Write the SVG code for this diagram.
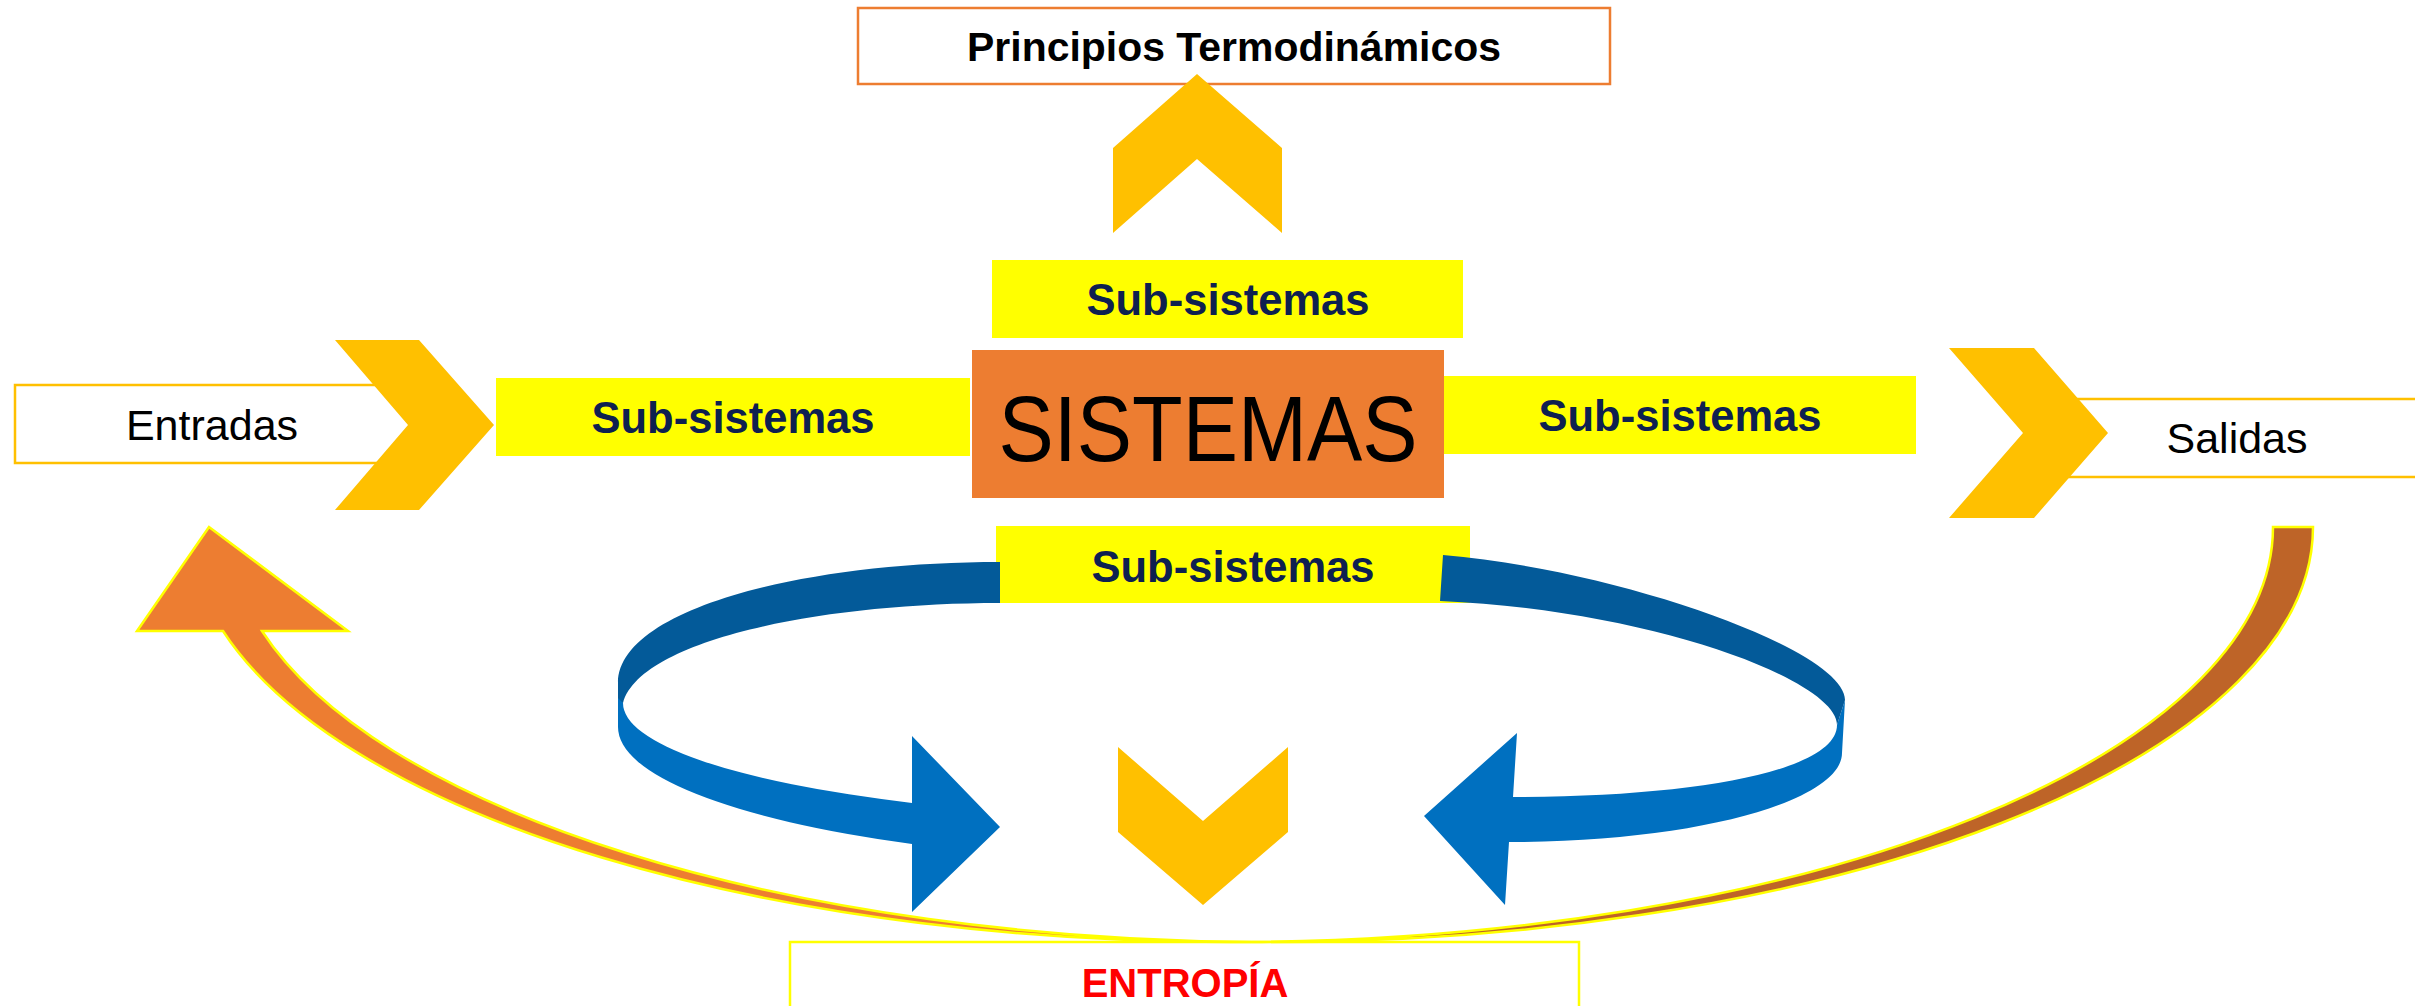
<svg xmlns="http://www.w3.org/2000/svg" width="2415" height="1006" viewBox="0 0 2415 1006">
<defs>
<style>
.chev{fill:#FFC000;}
.bar{fill:#FFFF00;}
.sub{font-family:"Liberation Sans",Arial,sans-serif;font-weight:bold;font-size:44px;fill:#0E2050;text-anchor:middle;}
.lbl{font-family:"Liberation Sans",Arial,sans-serif;font-size:43px;fill:#000;text-anchor:middle;}
.io{fill:#fff;stroke:#FFC000;stroke-width:2.5;}
.dark{fill:#035A99;}
.light{fill:#0070C0;}
.arcO{fill:#ED7D31;stroke:#FFFF00;stroke-width:2.5;stroke-linejoin:miter;}
.arcB{fill:#BE6428;stroke:#FFFF00;stroke-width:2.5;stroke-linejoin:miter;}
</style>
</defs>
<rect width="2415" height="1006" fill="#fff"/>

<g id="principios">
<rect x="858" y="8" width="752" height="76" fill="#fff" stroke="#ED7D31" stroke-width="2.5"/>
<text x="1234" y="61" font-family="Liberation Sans, Arial, sans-serif" font-weight="bold" font-size="40" text-anchor="middle" textLength="534" lengthAdjust="spacingAndGlyphs" fill="#000">Principios Termodinámicos</text>
</g>

<g id="entropia">
<rect x="790" y="942" width="789" height="80" fill="#fff" stroke="#FFFF00" stroke-width="2.5"/>
<text x="1185" y="997" font-family="Liberation Sans, Arial, sans-serif" font-weight="bold" font-size="40" text-anchor="middle" fill="#FF0000">ENTROPÍA</text>
</g>

<g id="entradas">
<path class="io" d="M395,385 H15 V463 H395"/>
<text class="lbl" x="212" y="440">Entradas</text>
</g>

<g id="salidas">
<path class="io" d="M2050,399 H2430 M2430,477 H2050"/>
<text class="lbl" x="2237" y="453">Salidas</text>
</g>

<g id="sub-izq">
<rect class="bar" x="496" y="378" width="474" height="78"/>
<text class="sub" x="733" y="433" textLength="283" lengthAdjust="spacingAndGlyphs">Sub-sistemas</text>
</g>

<g id="sub-der">
<rect class="bar" x="1444" y="376" width="472" height="78"/>
<text class="sub" x="1680" y="431" textLength="283" lengthAdjust="spacingAndGlyphs">Sub-sistemas</text>
</g>

<g id="sub-sup">
<rect class="bar" x="992" y="260" width="471" height="78"/>
<text class="sub" x="1228" y="315" textLength="283" lengthAdjust="spacingAndGlyphs">Sub-sistemas</text>
</g>

<g id="sub-inf">
<rect class="bar" x="996" y="526" width="474" height="77"/>
<text class="sub" x="1233" y="582" textLength="283" lengthAdjust="spacingAndGlyphs">Sub-sistemas</text>
</g>

<g id="sistemas">
<rect x="972" y="350" width="472" height="148" fill="#ED7D31"/>
<text x="1208" y="461" font-family="Liberation Sans, Arial, sans-serif" font-size="93" text-anchor="middle" textLength="419" lengthAdjust="spacingAndGlyphs" fill="#000">SISTEMAS</text>
</g>

<g id="connectors">
<polygon class="chev" points="1197,74 1282,148 1282,233 1197,159 1113,233 1113,148"/>
<polygon class="chev" points="335,340 419,340 494,425 419,510 335,510 408,425"/>
<polygon class="chev" points="1949,348 2034,348 2108,433 2034,518 1949,518 2023,433"/>
<polygon class="chev" points="1118,747 1203,821 1288,747 1288,832 1203,905 1118,832"/>

<path class="light" d="M618,683 L618,727 A613 137 0 0 0 912,844 L912,912 L1000,827 L912,736 L912,803 A608 117.5 0 0 1 623,703 Z"/>
<path class="dark" d="M1000,562 C800,562 618,610 618,683 L618,698 L623,703 C640,640 820,603 1000,603 Z"/>

<path class="light" d="M1845,700 L1842,753 C1842,800 1700,842 1509,842 L1505,905 L1424,816 L1517,733 L1513,797 C1700,797 1837,770 1837,725 Z"/>
<path class="dark" d="M1443,555 C1620,570 1845,650 1845,700 L1837,725 C1837,680 1650,610 1440,601 Z"/>

<path class="arcO" d="M1251.3,941.9 A1041.7 415 0 0 1 223,631 L137,631 L209,527 L348,631 L262,631 A1041.7 415 0 0 0 1251.3,941.9 Z"/>
<path class="arcB" d="M1251.3,941.9 A1041.7 415 0 0 0 2313,527 L2273,527 A1041.7 415 0 0 1 1251.3,941.9 Z"/>
</g>
</svg>
